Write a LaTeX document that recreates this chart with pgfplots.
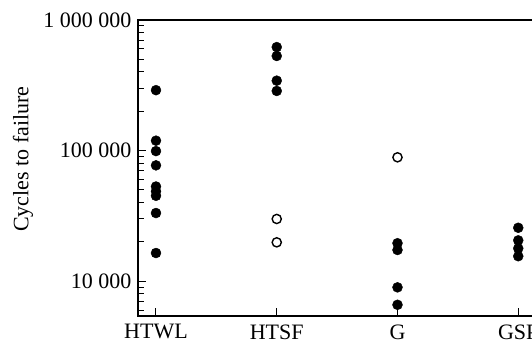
\documentclass[border=0pt]{standalone}
\usepackage{pgfplots}
\pgfplotsset{compat=1.18}
\usepackage{fontspec}
\setmainfont{Liberation Serif}

% Fatigue lives per specimen group (filled: failed, open: separate series)
\pgfplotstableread{
x   y
0   290000
0   119000
0   99000
0   77000
0   53000
0   48700
0   45000
0   33200
0   16400
1   620000
1   530000
1   343000
1   286000
2   19500
2   17300
2   8950
2   6580
3   25600
3   20500
3   17800
3   15500
}\filled

\pgfplotstableread{
x   y
1   29900
1   19800
2   88700
}\hollow

\begin{document}
\begin{tikzpicture}
\useasboundingbox (-138pt,-29pt) rectangle (394pt,316pt);
\clip (-138pt,-40pt) rectangle (394pt,316pt);
\begin{axis}[
  at={(0pt,0pt)}, anchor=south west,
  scale only axis,
  width=501pt, height=296pt,
  xmin=-0.149, xmax=4,
  ymode=log, ymin=5400, ymax=1000000,
  axis line style={line width=1.5pt},
  every tick/.style={black, line width=1pt},
  major tick length=8pt, minor tick length=5.5pt,
  xtick={0,1,2,3}, xticklabels={HTWL,HTSF,G,GSP},
  xtick pos=bottom, ytick pos=left,
  ytick={10000,100000,1000000},
  yticklabels={10 000,100 000,1 000 000},
  minor ytick={6000,7000,8000,9000,20000,30000,40000,50000,60000,70000,80000,90000,200000,300000,400000,500000,600000,700000,800000,900000},
  ticklabel style={font=\fontsize{22}{26}\selectfont},
  xticklabel style={yshift=-5pt},
  yticklabel style={xshift=-3pt},
  ylabel={Cycles to failure},
  ylabel style={font=\fontsize{22}{26}\selectfont, at={(axis description cs:-0.2295,0.53)}, anchor=center},
  clip=false,
]
\addplot[only marks, mark=*, mark size=5pt, black] table[x=x, y=y] {\filled};
\addplot[only marks, mark=o, mark size=4.6pt, black, mark options={line width=1.4pt, fill=white}] table[x=x, y=y] {\hollow};
\end{axis}
\end{tikzpicture}
\end{document}
